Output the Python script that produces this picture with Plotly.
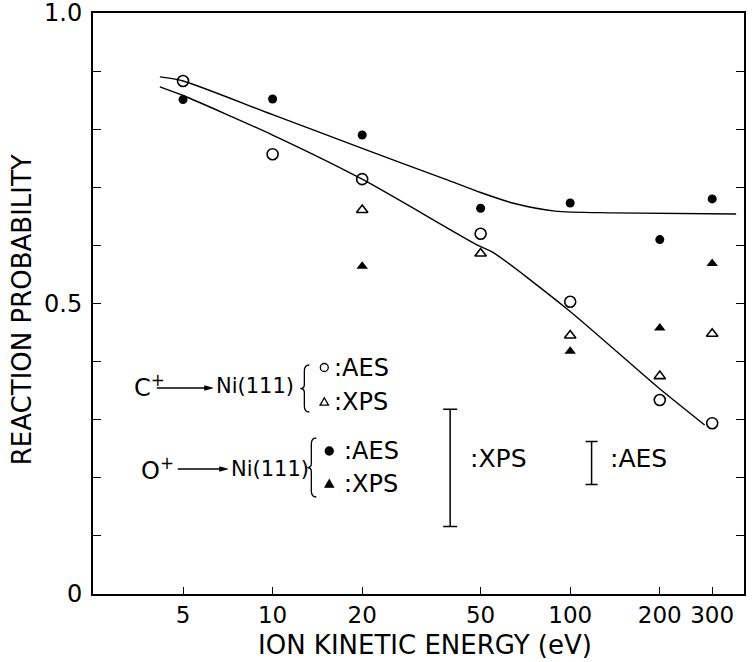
import plotly.graph_objects as go

# Ion kinetic energy (eV) and measured reaction probabilities
c_aes_energy = [5, 10, 20, 50, 100, 200, 300]
c_aes_prob = [0.883, 0.757, 0.714, 0.620, 0.503, 0.334, 0.294]

c_xps_energy = [20, 50, 100, 200, 300]
c_xps_prob = [0.661, 0.586, 0.445, 0.375, 0.448]

o_aes_energy = [5, 10, 20, 50, 100, 200, 300]
o_aes_prob = [0.851, 0.852, 0.790, 0.664, 0.673, 0.610, 0.680]

o_xps_energy = [20, 100, 200, 300]
o_xps_prob = [0.564, 0.418, 0.458, 0.569]

# Hand-drawn trend curves
o_curve_energy = [4.18, 5, 10, 20, 38, 50, 64, 89, 138, 361]
o_curve_prob = [0.890, 0.883, 0.825, 0.767, 0.714, 0.691, 0.673, 0.659, 0.656, 0.654]

c_curve_energy = [4.18, 5, 10, 20, 49, 55, 99, 198, 283]
c_curve_prob = [0.873, 0.858, 0.790, 0.714, 0.600, 0.588, 0.488, 0.355, 0.291]

# Typical uncertainty of each technique (centre, half-length)
err_labels = ["XPS", "AES"]
err_energy = [39.5, 118]
err_center = [0.217, 0.2255]
err_half = [0.101, 0.037]

x_ticks = [5, 10, 20, 50, 100, 200, 300]
y_ticks = [0, 0.5, 1.0]
y_ticktext = ["0", "0.5", "1.0"]

FONT = "DejaVu Sans"
W, H = 754, 662
L, R, T, B = 93, 746, 13, 594


def fx(px):
    return (px - L) / (R - L)


def fy(py):
    return (B - py) / (B - T)


fig = go.Figure()

line_style = dict(color="black", width=1.4, shape="spline", smoothing=0.7)
fig.add_trace(go.Scatter(x=o_curve_energy, y=o_curve_prob, mode="lines", line=line_style))
fig.add_trace(go.Scatter(x=c_curve_energy, y=c_curve_prob, mode="lines", line=line_style))

fig.add_trace(go.Scatter(
    x=c_aes_energy, y=c_aes_prob, mode="markers",
    marker=dict(symbol="circle-open", size=11, color="black", line=dict(width=1.6))))
fig.add_trace(go.Scatter(
    x=c_xps_energy, y=c_xps_prob, mode="markers",
    marker=dict(symbol="triangle-up-open", size=10, color="black", line=dict(width=1.6))))
fig.add_trace(go.Scatter(
    x=o_aes_energy, y=o_aes_prob, mode="markers",
    marker=dict(symbol="circle", size=9, color="black")))
fig.add_trace(go.Scatter(
    x=o_xps_energy, y=o_xps_prob, mode="markers",
    marker=dict(symbol="triangle-up", size=10, color="black")))

# Error-bar keys
for i, lab in enumerate(err_labels):
    fig.add_trace(go.Scatter(
        x=[err_energy[i]], y=[err_center[i]], mode="markers",
        marker=dict(size=1, color="rgba(0,0,0,0)"),
        error_y=dict(type="data", array=[err_half[i]], color="black",
                     thickness=1.5, width=7 if lab == "XPS" else 6)))

shapes = []
annotations = []


def text(s, x, y, size=24, xanchor="left"):
    annotations.append(dict(
        text=s, x=fx(x), y=fy(y), xref="paper", yref="paper",
        xanchor=xanchor, yanchor="middle", showarrow=False,
        font=dict(family=FONT, size=size, color="black")))


def arrow(x0, x1, y):
    shapes.append(dict(type="line", xref="paper", yref="paper",
                       x0=fx(x0), x1=fx(x1 - 5), y0=fy(y), y1=fy(y),
                       line=dict(color="black", width=1.3)))
    shapes.append(dict(type="path", xref="paper", yref="paper",
                       path=f"M {fx(x1)},{fy(y)} L {fx(x1 - 8)},{fy(y - 2.2)} "
                            f"L {fx(x1 - 8)},{fy(y + 2.2)} Z",
                       fillcolor="black", line=dict(color="black", width=0.8)))


def brace(xr, xs, xt, ytop, ybot):
    ym = (ytop + ybot) / 2
    p = (f"M {fx(xr)},{fy(ytop)} Q {fx(xs)},{fy(ytop)} {fx(xs)},{fy(ytop + 6)} "
         f"L {fx(xs)},{fy(ym - 4)} Q {fx(xs)},{fy(ym)} {fx(xt)},{fy(ym)} "
         f"Q {fx(xs)},{fy(ym)} {fx(xs)},{fy(ym + 4)} "
         f"L {fx(xs)},{fy(ybot - 6)} Q {fx(xs)},{fy(ybot)} {fx(xr)},{fy(ybot)}")
    shapes.append(dict(type="path", xref="paper", yref="paper", path=p,
                       line=dict(color="black", width=1.3)))


def key_circle(x, y, r, filled):
    shapes.append(dict(type="circle", xref="paper", yref="paper",
                       x0=fx(x - r), x1=fx(x + r), y0=fy(y + r), y1=fy(y - r),
                       fillcolor="black" if filled else "rgba(0,0,0,0)",
                       line=dict(color="black", width=1.3)))


def key_triangle(x, y, s, filled):
    shapes.append(dict(type="path", xref="paper", yref="paper",
                       path=f"M {fx(x)},{fy(y - s)} L {fx(x - s)},{fy(y + s * 0.75)} "
                            f"L {fx(x + s)},{fy(y + s * 0.75)} Z",
                       fillcolor="black" if filled else "rgba(0,0,0,0)",
                       line=dict(color="black", width=1.3)))


# C+ row
text("C<sup>+</sup>", 132, 386)
arrow(157, 213, 388)
text("Ni(111)", 214, 386, size=21)
brace(310, 305, 301, 365, 412)
key_circle(325, 367.5, 4, False)
text(":AES", 333, 367.5)
key_triangle(325, 402, 4.2, False)
text(":XPS", 333, 401.5)

# O+ row
text("O<sup>+</sup>", 139, 469)
arrow(178, 228, 469)
text("Ni(111)", 229, 469, size=21)
brace(317, 312, 308, 438, 497)
key_circle(330, 451, 4, True)
text(":AES", 343, 451)
key_triangle(330, 484, 4.2, True)
text(":XPS", 343, 484)

# Error-bar key labels
text(":XPS", 469, 458, size=25)
text(":AES", 610, 458, size=25)

# Y tick labels, placed beside the frame
for v, lab in zip(y_ticks, y_ticktext):
    annotations.append(dict(
        text=lab, x=fx(84), y=v, xref="paper", yref="y",
        xanchor="right", yanchor="middle", showarrow=False,
        font=dict(family=FONT, size=24, color="black")))

# Axis titles
text("ION KINETIC ENERGY (eV)", 426, 645, size=26, xanchor="center")
annotations.append(dict(
    text="REACTION PROBABILITY", x=fx(22), y=fy(310), xref="paper", yref="paper",
    xanchor="center", yanchor="middle", textangle=-90, showarrow=False,
    font=dict(family=FONT, size=26, color="black")))

fig.update_layout(
    width=W, height=H,
    margin=dict(l=L, r=W - R, t=T, b=H - B),
    paper_bgcolor="white", plot_bgcolor="white",
    showlegend=False,
    shapes=shapes, annotations=annotations,
    font=dict(family=FONT, size=23, color="black"),
)

fig.update_xaxes(
    type="log", range=[0.3965, 2.584],
    tickmode="array", tickvals=x_ticks, ticktext=[str(v) for v in x_ticks],
    ticks="inside", ticklen=7, tickwidth=1.4, tickcolor="black",
    showline=True, linewidth=1.6, linecolor="black", mirror=True,
    showgrid=False, zeroline=False,
    tickfont=dict(family=FONT, size=23, color="black"),
)
fig.update_yaxes(
    range=[0, 1.0],
    tickmode="array", tickvals=y_ticks, showticklabels=False,
    ticks="inside", ticklen=8, tickwidth=1.4, tickcolor="black",
    minor=dict(dtick=0.1, tick0=0, ticks="inside", ticklen=8,
               tickwidth=1.4, tickcolor="black", showgrid=False),
    showline=True, linewidth=1.6, linecolor="black", mirror="ticks",
    showgrid=False, zeroline=False,
)

fig.write_html("out.html")
